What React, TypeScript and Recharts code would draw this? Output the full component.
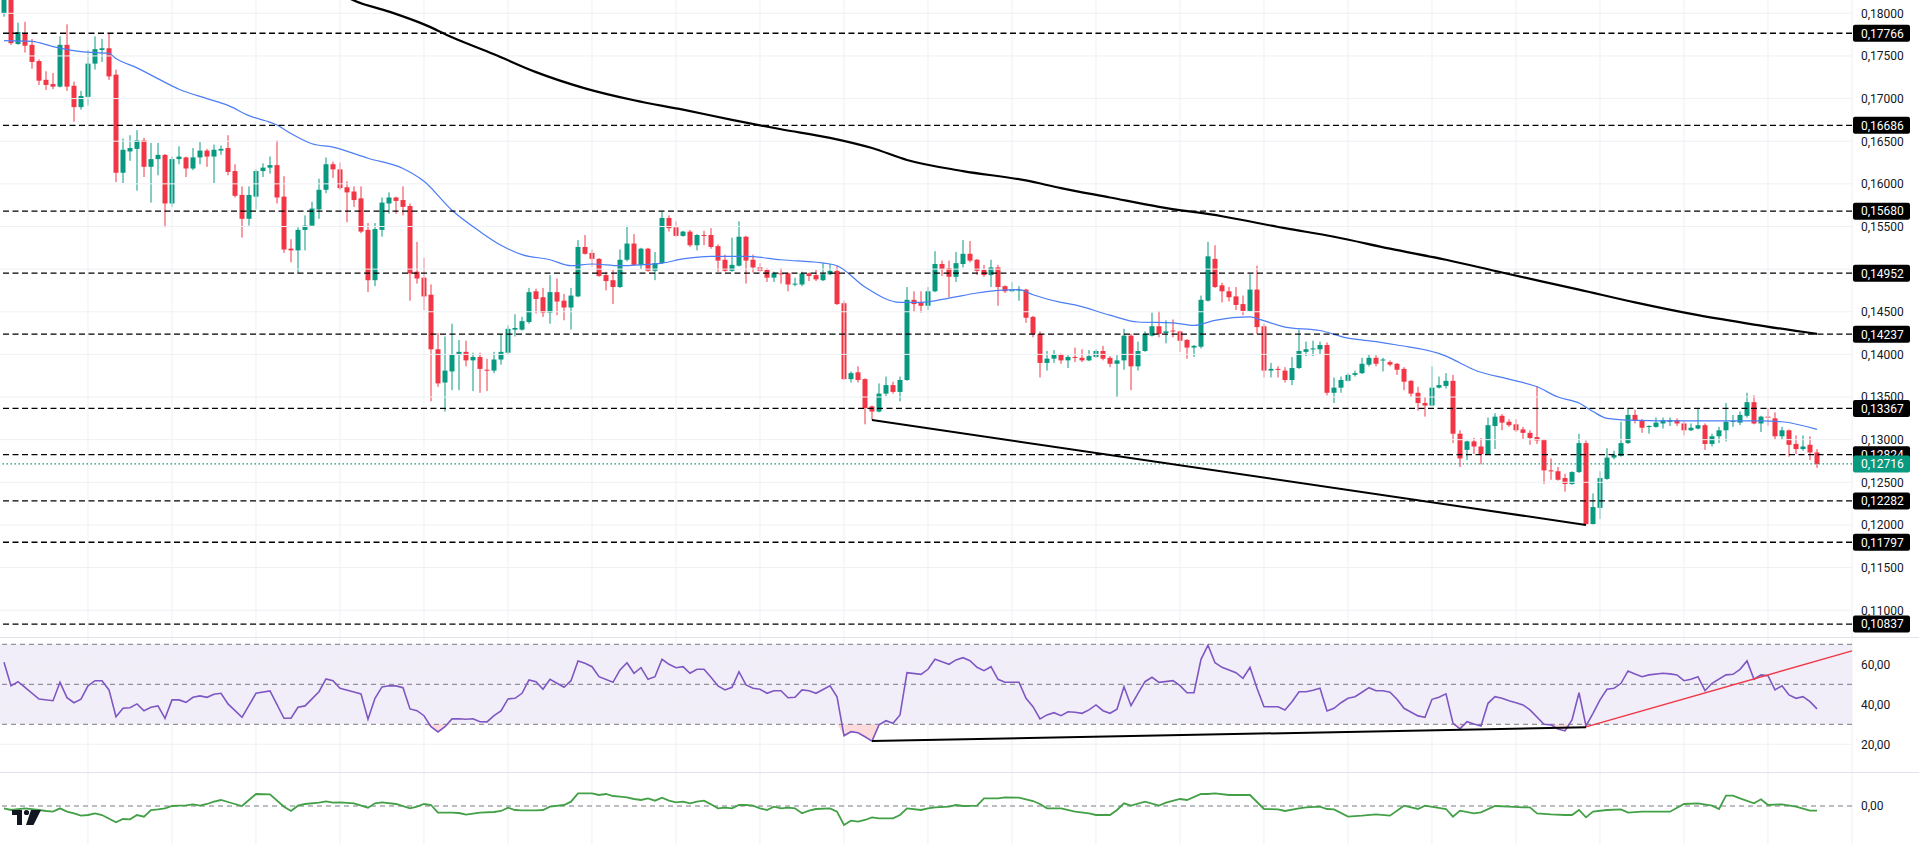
import React from "react";
import { ComposedChart, Bar, Line, Area, XAxis, YAxis, ReferenceLine, ReferenceArea } from "recharts";

const GREEN = "#089981";
const RED = "#f23645";
const FONT = "Roboto, 'Liberation Sans', Arial, sans-serif";

// ---------- price pane data: [open, high, low, close] per candle ----------
const candles: [number, number, number, number][] = [
  [0.18, 0.183, 0.1796, 0.1825], [0.182, 0.1826, 0.1763, 0.1765], [0.1764, 0.1789, 0.1763, 0.1778], [0.1777, 0.179, 0.1754, 0.1762],
  [0.1763, 0.177, 0.1735, 0.1743], [0.1744, 0.1746, 0.1716, 0.1721], [0.1722, 0.1732, 0.171, 0.1716], [0.1717, 0.173, 0.1711, 0.1714],
  [0.1714, 0.1773, 0.1713, 0.1763], [0.1763, 0.1787, 0.1709, 0.1714], [0.1715, 0.172, 0.1673, 0.169], [0.169, 0.1709, 0.1687, 0.1703],
  [0.1702, 0.1757, 0.1692, 0.1741], [0.1741, 0.1773, 0.1734, 0.1758], [0.1757, 0.177, 0.1743, 0.1759], [0.1759, 0.1777, 0.1722, 0.1726],
  [0.1728, 0.1734, 0.1602, 0.1613], [0.1613, 0.1653, 0.1601, 0.164], [0.1638, 0.1657, 0.1627, 0.1642], [0.1641, 0.1663, 0.1592, 0.1651],
  [0.1651, 0.1654, 0.1608, 0.162], [0.162, 0.1648, 0.1578, 0.1629], [0.1629, 0.1648, 0.161, 0.1634], [0.1634, 0.1635, 0.1549, 0.1577],
  [0.1577, 0.1632, 0.1573, 0.1629], [0.1629, 0.1644, 0.1623, 0.1632], [0.1631, 0.1632, 0.1608, 0.1618], [0.1618, 0.1642, 0.1616, 0.1631],
  [0.1631, 0.1649, 0.1623, 0.1639], [0.1639, 0.1641, 0.162, 0.1632], [0.1632, 0.1646, 0.1601, 0.164], [0.1639, 0.1645, 0.1634, 0.1641],
  [0.1642, 0.1657, 0.161, 0.1614], [0.1615, 0.1623, 0.1584, 0.1586], [0.1587, 0.1597, 0.1537, 0.1559], [0.1559, 0.1597, 0.1551, 0.1587],
  [0.1585, 0.1617, 0.157, 0.1615], [0.1615, 0.1624, 0.1608, 0.1619], [0.1619, 0.1632, 0.1612, 0.1622], [0.1622, 0.1651, 0.1577, 0.1584],
  [0.1585, 0.1609, 0.1519, 0.1523], [0.1524, 0.1535, 0.1508, 0.1522], [0.1522, 0.1549, 0.1495, 0.1546], [0.1546, 0.1563, 0.1522, 0.1551],
  [0.1551, 0.1579, 0.1551, 0.1571], [0.157, 0.1606, 0.1559, 0.1593], [0.1593, 0.1631, 0.1589, 0.1623], [0.1623, 0.1626, 0.1607, 0.1617],
  [0.1617, 0.1625, 0.1593, 0.1595], [0.1596, 0.1603, 0.1555, 0.159], [0.1591, 0.1597, 0.1573, 0.1581], [0.1583, 0.1597, 0.1542, 0.1544],
  [0.1546, 0.1554, 0.1473, 0.1487], [0.1487, 0.1554, 0.148, 0.1547], [0.1546, 0.1584, 0.1538, 0.1578], [0.1577, 0.159, 0.1565, 0.1584],
  [0.1584, 0.1585, 0.1565, 0.158], [0.1581, 0.1597, 0.1563, 0.1573], [0.1574, 0.1577, 0.1463, 0.1495], [0.1497, 0.1532, 0.1483, 0.1489],
  [0.149, 0.1513, 0.1452, 0.1468], [0.147, 0.1482, 0.1345, 0.1406], [0.1406, 0.1425, 0.1362, 0.1366], [0.1367, 0.1421, 0.1333, 0.1381],
  [0.138, 0.1436, 0.1358, 0.14], [0.14, 0.1417, 0.1358, 0.1403], [0.1403, 0.1416, 0.1386, 0.1393], [0.1393, 0.1402, 0.1357, 0.1397],
  [0.1397, 0.1402, 0.1355, 0.1383], [0.1382, 0.1395, 0.1357, 0.1381], [0.1381, 0.1403, 0.1378, 0.1394], [0.1394, 0.1424, 0.1388, 0.1403],
  [0.1402, 0.1434, 0.1399, 0.143], [0.1429, 0.1447, 0.1421, 0.1431], [0.1429, 0.1444, 0.1428, 0.1439], [0.1438, 0.1478, 0.1436, 0.1473],
  [0.1474, 0.1477, 0.1448, 0.1465], [0.1467, 0.1478, 0.1444, 0.1449], [0.1449, 0.1493, 0.1436, 0.1473], [0.1473, 0.1489, 0.1446, 0.1462],
  [0.1463, 0.1471, 0.144, 0.1455], [0.1455, 0.1478, 0.1429, 0.1469], [0.1468, 0.1534, 0.1467, 0.1526], [0.1526, 0.154, 0.1517, 0.1518],
  [0.1519, 0.1523, 0.1503, 0.1512], [0.1512, 0.1513, 0.1491, 0.1492], [0.1493, 0.1497, 0.1475, 0.1486], [0.1487, 0.1499, 0.1459, 0.1479],
  [0.1479, 0.1523, 0.1478, 0.1511], [0.1511, 0.1551, 0.1509, 0.153], [0.153, 0.1541, 0.1504, 0.1505], [0.1505, 0.1525, 0.15, 0.1524],
  [0.1524, 0.1525, 0.1497, 0.1498], [0.1498, 0.152, 0.1487, 0.1507], [0.1507, 0.1567, 0.1506, 0.156], [0.156, 0.1563, 0.1544, 0.1548],
  [0.1549, 0.1556, 0.1538, 0.1539], [0.1539, 0.1545, 0.1538, 0.1544], [0.1544, 0.1546, 0.1526, 0.1528], [0.1528, 0.1541, 0.1522, 0.154],
  [0.154, 0.1545, 0.1528, 0.1539], [0.154, 0.1548, 0.1524, 0.1526], [0.1527, 0.1529, 0.1497, 0.151], [0.1511, 0.1517, 0.1497, 0.1498],
  [0.1498, 0.1537, 0.1497, 0.1505], [0.1504, 0.1556, 0.1503, 0.1538], [0.1538, 0.1539, 0.1483, 0.151], [0.1511, 0.1517, 0.1496, 0.1502],
  [0.1502, 0.1507, 0.1497, 0.1498], [0.1499, 0.1501, 0.1485, 0.149], [0.149, 0.1497, 0.1485, 0.1495], [0.1495, 0.1501, 0.1483, 0.1494],
  [0.1495, 0.1496, 0.1474, 0.1482], [0.1482, 0.149, 0.148, 0.1483], [0.1482, 0.1497, 0.148, 0.1495], [0.1495, 0.1496, 0.1486, 0.1492],
  [0.1493, 0.1499, 0.1486, 0.1488], [0.1487, 0.1507, 0.1486, 0.1494], [0.1494, 0.1506, 0.1493, 0.1498], [0.1498, 0.1504, 0.1458, 0.1459],
  [0.146, 0.1463, 0.137, 0.1371], [0.1371, 0.138, 0.1367, 0.1378], [0.1379, 0.1386, 0.1367, 0.137], [0.1371, 0.1372, 0.1318, 0.1337],
  [0.1339, 0.134, 0.1323, 0.1333], [0.1333, 0.1366, 0.1332, 0.1354], [0.1354, 0.1374, 0.1351, 0.1364], [0.1364, 0.1368, 0.1354, 0.1356],
  [0.1356, 0.1374, 0.1345, 0.137], [0.137, 0.1479, 0.1369, 0.1464], [0.1464, 0.1474, 0.145, 0.1459], [0.1461, 0.1474, 0.1449, 0.1457],
  [0.1457, 0.1479, 0.1452, 0.1474], [0.1474, 0.1521, 0.1473, 0.1506], [0.1506, 0.151, 0.1492, 0.15], [0.1501, 0.151, 0.1467, 0.1491],
  [0.1491, 0.152, 0.1485, 0.1507], [0.1506, 0.1534, 0.1502, 0.1518], [0.1518, 0.1533, 0.1508, 0.151], [0.1511, 0.1512, 0.1493, 0.1498],
  [0.1499, 0.1505, 0.1491, 0.1493], [0.1493, 0.1511, 0.1479, 0.1502], [0.1502, 0.1505, 0.1457, 0.1479], [0.148, 0.1481, 0.1472, 0.1474],
  [0.1474, 0.1485, 0.1473, 0.1476], [0.1475, 0.148, 0.1463, 0.1476], [0.1476, 0.1477, 0.1437, 0.1443], [0.1444, 0.1445, 0.142, 0.1424],
  [0.1424, 0.1427, 0.1373, 0.139], [0.139, 0.1404, 0.1381, 0.1395], [0.1395, 0.1405, 0.139, 0.14], [0.14, 0.1401, 0.1389, 0.1393],
  [0.1393, 0.1399, 0.1384, 0.1397], [0.1397, 0.1408, 0.1391, 0.1396], [0.1396, 0.1406, 0.1391, 0.1393], [0.1393, 0.1405, 0.1392, 0.1398],
  [0.1397, 0.1406, 0.1396, 0.1404], [0.1404, 0.141, 0.1393, 0.1395], [0.1396, 0.1398, 0.1385, 0.1389], [0.1389, 0.1399, 0.135, 0.1393],
  [0.1393, 0.143, 0.1382, 0.1422], [0.1422, 0.1424, 0.1358, 0.1386], [0.1386, 0.1415, 0.1381, 0.1404], [0.1404, 0.1427, 0.1403, 0.1424],
  [0.1422, 0.1449, 0.1421, 0.1433], [0.1433, 0.1451, 0.142, 0.1424], [0.1425, 0.144, 0.1413, 0.1427], [0.1428, 0.1441, 0.142, 0.1427],
  [0.1427, 0.1428, 0.1403, 0.1416], [0.1417, 0.1418, 0.1395, 0.1408], [0.1408, 0.1411, 0.1397, 0.141], [0.1409, 0.1469, 0.1407, 0.1464],
  [0.1463, 0.1532, 0.1462, 0.1515], [0.1512, 0.1528, 0.1478, 0.1479], [0.1481, 0.1484, 0.1461, 0.1474], [0.1474, 0.1479, 0.1462, 0.1467],
  [0.1468, 0.1479, 0.1452, 0.1458], [0.1459, 0.1469, 0.1446, 0.1451], [0.1451, 0.1494, 0.145, 0.1476], [0.1476, 0.1504, 0.1424, 0.1432],
  [0.1433, 0.1436, 0.1373, 0.1381], [0.1381, 0.139, 0.1373, 0.1383], [0.1383, 0.1386, 0.1373, 0.1382], [0.1381, 0.1385, 0.1367, 0.137],
  [0.137, 0.1397, 0.1364, 0.1384], [0.1384, 0.1429, 0.1383, 0.1404], [0.1403, 0.1415, 0.1398, 0.1406], [0.1406, 0.1416, 0.1398, 0.1407],
  [0.1406, 0.1415, 0.14, 0.1411], [0.1411, 0.1414, 0.1352, 0.1355], [0.1355, 0.1373, 0.1343, 0.1361], [0.1361, 0.1374, 0.1355, 0.137],
  [0.1369, 0.1378, 0.1368, 0.1376], [0.1376, 0.1381, 0.1374, 0.1378], [0.1378, 0.1396, 0.1377, 0.1389], [0.1388, 0.14, 0.1386, 0.1396],
  [0.1396, 0.1399, 0.1386, 0.1389], [0.1393, 0.1396, 0.138, 0.1394], [0.1391, 0.1393, 0.1386, 0.1388], [0.1389, 0.139, 0.1376, 0.1382],
  [0.1383, 0.1385, 0.1358, 0.1368], [0.1369, 0.137, 0.135, 0.1354], [0.1355, 0.1362, 0.1334, 0.1343], [0.1343, 0.135, 0.1327, 0.134],
  [0.134, 0.1386, 0.1339, 0.1361], [0.1361, 0.1374, 0.136, 0.1364], [0.1363, 0.1378, 0.136, 0.1369], [0.1369, 0.1376, 0.1296, 0.1307],
  [0.1307, 0.1311, 0.1268, 0.1278], [0.1288, 0.1299, 0.1276, 0.1298], [0.1298, 0.1302, 0.1283, 0.1292], [0.1292, 0.1302, 0.1271, 0.1283],
  [0.1283, 0.1326, 0.1282, 0.1317], [0.1316, 0.1331, 0.1289, 0.1327], [0.1328, 0.133, 0.1311, 0.132], [0.1321, 0.1324, 0.1315, 0.1317],
  [0.1318, 0.1324, 0.1309, 0.1311], [0.1312, 0.1315, 0.1301, 0.1308], [0.1308, 0.1311, 0.1294, 0.1302], [0.1303, 0.1363, 0.1295, 0.1299],
  [0.13, 0.1301, 0.1248, 0.1264], [0.1264, 0.1278, 0.1253, 0.1263], [0.1263, 0.1268, 0.1252, 0.1253], [0.1255, 0.126, 0.1239, 0.1248],
  [0.1248, 0.1263, 0.1247, 0.1262], [0.1262, 0.1307, 0.1261, 0.1296], [0.1296, 0.1299, 0.12, 0.1201], [0.1201, 0.1237, 0.12, 0.1221],
  [0.122, 0.1263, 0.1207, 0.1255], [0.1254, 0.129, 0.1253, 0.1279], [0.1279, 0.1287, 0.1277, 0.1282], [0.1281, 0.1321, 0.128, 0.1296],
  [0.1296, 0.1337, 0.1295, 0.1329], [0.1329, 0.1335, 0.1319, 0.1322], [0.1323, 0.1324, 0.1308, 0.1314], [0.1315, 0.1317, 0.1307, 0.1316],
  [0.1315, 0.1326, 0.1314, 0.132], [0.1319, 0.1326, 0.1313, 0.1323], [0.1321, 0.1326, 0.1316, 0.1323], [0.1323, 0.1325, 0.1316, 0.1319],
  [0.1319, 0.1322, 0.1305, 0.1311], [0.1311, 0.1319, 0.131, 0.1314], [0.1313, 0.1336, 0.1312, 0.1317], [0.1317, 0.1319, 0.1288, 0.1295],
  [0.1295, 0.1307, 0.1292, 0.1304], [0.1304, 0.1315, 0.1296, 0.1311], [0.1311, 0.1343, 0.1298, 0.1321], [0.1321, 0.1329, 0.1315, 0.1322],
  [0.132, 0.1333, 0.1317, 0.1329], [0.1328, 0.1355, 0.1326, 0.1344], [0.1344, 0.1352, 0.1318, 0.1319], [0.1319, 0.1328, 0.1309, 0.1327],
  [0.1327, 0.1337, 0.1316, 0.1326], [0.1325, 0.1332, 0.13, 0.1304], [0.1304, 0.1315, 0.13, 0.1311], [0.1311, 0.1312, 0.128, 0.1294],
  [0.1295, 0.1305, 0.1283, 0.1289], [0.1289, 0.1305, 0.1287, 0.1292], [0.1294, 0.1304, 0.1276, 0.1285], [0.1285, 0.1289, 0.1267, 0.12716],
];

// moving averages: [candle index, value]
const ma50Points: [number, number][] = [
  [0, 0.1768], [4, 0.1767], [7, 0.1761], [11, 0.1755], [15, 0.1753], [16, 0.1747], [19, 0.1736], [23, 0.1719], [25, 0.1711],
  [29, 0.17], [32, 0.1692], [35, 0.168], [39, 0.1669], [41, 0.1659], [44, 0.1647], [47, 0.1643], [52, 0.163], [57, 0.1618],
  [60, 0.1603], [64, 0.1569], [68, 0.1544], [71, 0.1528], [74, 0.1517], [78, 0.1511], [81, 0.1504], [84, 0.1506], [88, 0.1504],
  [91, 0.1505], [94, 0.1507], [97, 0.1512], [101, 0.1515], [106, 0.1515], [111, 0.1511], [118, 0.1506], [119, 0.1504],
  [123, 0.1479], [128, 0.1461], [131, 0.1461], [135, 0.1466], [139, 0.1472], [142, 0.1475], [145, 0.1476], [147, 0.147],
  [151, 0.1461], [153, 0.1458], [158, 0.1446], [162, 0.1438], [167, 0.1437], [170, 0.1434], [173, 0.144], [178, 0.1444],
  [179, 0.1442], [183, 0.1432], [188, 0.1428], [192, 0.1419], [196, 0.1415], [199, 0.1411], [206, 0.1398], [208, 0.139],
  [210, 0.1382], [215, 0.1371], [219, 0.1362], [222, 0.135], [225, 0.1343], [227, 0.1333], [229, 0.1325], [232, 0.1323],
  [241, 0.1322], [251, 0.1322], [254, 0.1321], [259, 0.1312],
];
const ma200Points: [number, number][] = [
  [47, 0.1828], [50, 0.1815], [55, 0.1802], [60, 0.1787], [64, 0.1772], [70, 0.1752], [76, 0.1731], [83, 0.1712], [90, 0.1698],
  [97, 0.1687], [104, 0.1675], [111, 0.1664], [118, 0.1654], [124, 0.1642], [129, 0.1628], [137, 0.1615], [146, 0.1604],
  [151, 0.1595], [158, 0.1584], [165, 0.1573], [174, 0.1562], [183, 0.1548], [190, 0.1538], [198, 0.1524], [206, 0.1511],
  [214, 0.1496], [225, 0.1476], [233, 0.1461], [242, 0.1446], [250, 0.1435], [259, 0.1424],
];

const levels = [0.17766, 0.16686, 0.1568, 0.14952, 0.14237, 0.13367, 0.12824, 0.12282, 0.11797, 0.10837];
const lastPrice = 0.12716;
const priceTicks = [0.18, 0.175, 0.17, 0.165, 0.16, 0.155, 0.145, 0.14, 0.135, 0.13, 0.125, 0.12, 0.115, 0.11];
const priceGrid = [0.18, 0.175, 0.17, 0.165, 0.16, 0.155, 0.15, 0.145, 0.14, 0.135, 0.13, 0.125, 0.12, 0.115, 0.11];
const priceTrend: [number, number][] = [[124, 0.1323], [226, 0.12]];
const PRICE_DOMAIN: [number, number] = [0.10686, 0.18156];

// ---------- RSI pane ----------
const rsiPoints: [number, number][] = [
  [0, 61], [1, 49.2], [2, 51.3], [3, 48.5], [5, 42.6], [7, 41.8], [8, 51], [9, 43.3], [10, 40.8], [11, 42.6], [12, 49.2], [13, 51.8],
  [14, 51.8], [15, 47.2], [16, 33.8], [17, 38], [18, 38.3], [19, 40.2], [20, 36.8], [21, 38.5], [22, 39.2], [23, 33], [24, 42.2],
  [25, 42.2], [26, 41], [27, 43.5], [28, 44.2], [29, 43.5], [30, 45], [31, 45.5], [32, 40.2], [34, 33.5], [36, 45.5], [38, 46.7],
  [40, 33], [41, 33], [42, 38.5], [43, 39.2], [45, 46.3], [46, 52.7], [47, 51.8], [48, 48], [50, 46.2], [51, 45.2], [52, 32.5],
  [53, 43], [54, 48.7], [55, 49.3], [56, 49.2], [57, 48.3], [58, 37.7], [59, 36.8], [60, 34.3], [61, 28.8], [62, 26.2], [63, 28.8],
  [64, 32.7], [65, 32.8], [66, 32.5], [67, 32.8], [68, 31.3], [69, 31.2], [70, 34.3], [71, 36.7], [72, 42.7], [73, 43], [74, 45.5],
  [75, 52.2], [76, 51.3], [77, 47.5], [78, 52.5], [79, 50.5], [80, 48.5], [81, 51.8], [82, 61.7], [83, 60.5], [84, 58.8], [85, 53.8],
  [87, 51], [88, 57.2], [89, 60.8], [90, 55.5], [91, 58.3], [92, 52.5], [93, 53.8], [94, 62.5], [95, 60], [96, 58.3], [97, 58.8],
  [98, 55.5], [99, 57.5], [100, 57.5], [101, 53.5], [102, 49.2], [103, 47.2], [104, 48.5], [105, 56.3], [106, 49.7], [107, 48],
  [108, 47.5], [109, 45.5], [110, 46.8], [111, 46.8], [112, 43.3], [113, 43.5], [114, 47.2], [115, 46.8], [116, 45.5], [118, 49.3],
  [119, 43.8], [120, 24.3], [121, 26.3], [122, 25.8], [123, 23.8], [124, 21.6], [125, 29.7], [126, 31.8], [127, 30.5], [128, 34.7],
  [129, 55.8], [131, 55], [132, 57.5], [133, 62.5], [134, 61.3], [135, 60], [136, 62.2], [137, 63.3], [138, 61.8], [139, 58.5],
  [140, 56.8], [141, 58.8], [142, 52.5], [143, 51], [145, 51], [146, 43], [147, 38.8], [148, 32.7], [149, 34.7], [150, 35.8],
  [151, 34.3], [152, 36.3], [153, 36], [154, 35.5], [155, 37.2], [156, 39.7], [157, 36.8], [158, 35.5], [159, 37.5], [160, 48.8],
  [161, 39.3], [162, 45.5], [163, 51.3], [164, 53.5], [165, 51], [167, 51.8], [168, 49.3], [169, 45.8], [170, 45.8], [171, 62.5],
  [172, 69.6], [173, 60.8], [174, 58.5], [176, 55.8], [177, 53], [178, 58.5], [179, 48], [180, 38.8], [182, 38.8], [183, 37.2],
  [184, 41.3], [185, 46.3], [186, 46.3], [187, 47], [188, 48], [189, 36.7], [190, 38], [191, 40.8], [192, 43], [193, 43.8],
  [194, 46], [195, 48.3], [196, 46.8], [197, 46.8], [198, 46], [199, 42.5], [200, 38], [202, 34.2], [203, 33.5], [204, 42.5],
  [205, 43.5], [206, 45.2], [207, 30.5], [208, 27.7], [209, 31.3], [210, 30.2], [211, 29.2], [212, 40.5], [213, 43.8], [214, 43],
  [215, 41.8], [216, 40.8], [217, 39.7], [218, 37.2], [220, 30], [221, 29.7], [222, 27.7], [223, 26.7], [224, 32.2], [225, 45.8],
  [226, 29.2], [227, 35.5], [228, 42.2], [229, 47.5], [230, 48], [231, 50.5], [232, 56.7], [233, 55.2], [234, 53.8], [235, 54.7],
  [237, 55.5], [238, 55.2], [239, 54.7], [240, 51.8], [241, 52.5], [242, 53.8], [243, 46.8], [244, 50.5], [246, 54.7], [247, 55],
  [248, 57.5], [249, 61.7], [250, 52.5], [251, 54.7], [252, 54.3], [253, 47.2], [254, 49.3], [255, 44.7], [256, 43], [257, 43.8],
  [258, 41.3], [259, 37.7],
];
const rsiTicks = [20, 40, 60];
const rsiBands = [70, 50, 30];
const rsiOversold = 30;
const rsiTrendBlack: [number, number][] = [[124, 21.6], [226, 28.5]];
const rsiTrendRed: [number, number][] = [[226, 28.7], [264, 66.7]];
const RSI_DOMAIN: [number, number] = [6.15, 73.15];

// ---------- oscillator pane ----------
const momPoints: [number, number][] = [
  [0, -7], [1, -12], [3, -7], [5, -12], [6, -15], [7, -17], [8, -7], [9, -17], [10, -22], [11, -29], [12, -27], [13, -22], [14, -27],
  [16, -49], [17, -39], [18, -40], [19, -27], [20, -32], [21, -12], [22, -10], [23, -7], [24, 0], [25, 1], [26, 2], [27, 5], [28, 1],
  [29, 6], [30, 13], [31, 18], [32, 12], [34, 0], [36, 36], [38, 35], [40, -2], [41, -15], [42, 1], [43, 6], [45, 10], [46, 14],
  [47, 10], [48, 11], [50, 8], [52, -5], [53, 8], [54, 11], [56, 6], [58, -7], [59, -2], [60, 6], [61, 3], [62, -20], [64, -20],
  [65, -21], [66, -26], [68, -20], [70, -18], [71, -15], [72, -5], [73, -12], [74, -13], [76, -13], [77, -12], [78, -2], [80, 3],
  [81, 13], [82, 38], [84, 38], [85, 33], [86, 36], [87, 30], [88, 28], [89, 26], [90, 21], [91, 18], [92, 23], [93, 16], [94, 25],
  [95, 16], [96, 11], [97, 13], [98, 8], [99, 13], [100, 16], [101, 5], [102, -7], [103, -5], [104, -7], [105, 3], [106, 3], [107, 1],
  [108, -7], [109, -12], [110, -2], [111, -7], [112, -5], [113, -7], [114, -22], [115, -14], [116, -9], [118, -7], [119, -17],
  [120, -57], [121, -44], [122, -47], [123, -42], [124, -34], [125, -37], [127, -37], [128, -27], [129, -7], [131, -12], [132, -7],
  [133, -4], [135, -2], [136, 3], [137, 0], [139, 1], [140, 23], [142, 23], [143, 26], [145, 25], [147, 15], [148, 6], [149, -7],
  [151, -7], [153, -17], [155, -22], [156, -27], [158, -27], [159, -12], [160, 8], [161, 1], [163, 13], [165, 1], [166, 10],
  [168, 21], [169, 18], [171, 36], [172, 36], [173, 38], [175, 33], [177, 33], [178, 33], [180, -9], [182, -10], [183, -15],
  [185, -7], [186, -4], [188, -2], [189, -9], [190, -10], [192, -32], [194, -29], [196, -25], [198, -29], [200, 1], [202, -9],
  [203, 1], [206, -9], [207, -32], [208, -14], [210, -22], [211, -19], [213, 0], [215, -2], [217, -4], [218, -4], [219, -22],
  [221, -25], [223, -27], [224, -27], [225, -12], [226, -34], [227, -17], [229, -12], [231, -10], [232, -20], [234, -17],
  [238, -17], [240, 6], [242, 8], [244, 1], [245, -9], [246, 31], [247, 31], [248, 23], [250, 8], [251, 20], [252, 3], [254, 5],
  [256, -2], [258, -14], [259, -14],
];
const MOM_DOMAIN: [number, number] = [-117, 99];
const momTicks = [0];

// vertical grid every 12 candles
const vGrid = [12, 24, 36, 48, 60, 72, 84, 96, 108, 120, 132, 144, 156, 168, 180, 192, 204, 216, 228, 240, 252, 264];
const X_DOMAIN: [number, number] = [-0.571, 264];

// ---------- derived rows ----------
const priceRows = candles.map(([o, h, l, c], i) => ({ i, o, h, l, c }));
const ma50Rows = ma50Points.map(([i, v]) => ({ i, v }));
const ma200Rows = ma200Points.map(([i, v]) => ({ i, v }));
const rsiRows = rsiPoints.map(([i, v]) => ({ i, v, os: [Math.min(v, rsiOversold), rsiOversold] }));
const momRows = momPoints.map(([i, v]) => ({ i, v }));
const seg = (p: [number, number][]) => p.map(([x, y]) => ({ x, y }));

const fmtPrice = (v: number) => v.toFixed(5).replace(".", ",");
const fmt2 = (v: number) => v.toFixed(2).replace(".", ",");

const Candle = (props: any) => {
  const { x, width, payload } = props;
  let { y, height } = props;
  if (!payload) return null;
  if (height < 0) { y = y + height; height = -height; }
  const { o, h, l, c } = payload;
  const color = c >= o ? GREEN : RED;
  const span = h - l;
  const k = span > 0 ? height / span : 0;
  const yO = y + (h - o) * k;
  const yC = y + (h - c) * k;
  const top = Math.min(yO, yC);
  const bh = Math.max(1, Math.abs(yC - yO));
  const cx = Math.round(x + width / 2);
  return (
    <g>
      <line x1={cx} x2={cx} y1={y} y2={y + height} stroke={color} strokeWidth={1} />
      <rect x={cx - 2.5} y={top} width={5} height={bh} fill={color} />
    </g>
  );
};

const PriceTick = (p: any) => {
  const v = p.payload?.value;
  const isLast = v === lastPrice;
  const isLevel = levels.includes(v);
  if (isLast || isLevel) {
    return (
      <g>
        <rect x={p.x - 8} y={p.y - 8.5} width={57} height={17} rx={2} fill={isLast ? GREEN : "#000"} />
        <text x={p.x} y={p.y} dy="0.36em" fill="#fff" fontSize={12} fontFamily={FONT}>{fmtPrice(v)}</text>
      </g>
    );
  }
  return <text x={p.x} y={p.y} dy="0.36em" fill="#131722" fontSize={12} fontFamily={FONT}>{fmtPrice(v)}</text>;
};

const SmallTick = (p: any) => (
  <text x={p.x} y={p.y} dy="0.36em" fill="#131722" fontSize={12} fontFamily={FONT}>{fmt2(p.payload?.value)}</text>
);

const GRID = "#eef0f4";
const M = { top: 0, right: 0, bottom: 0, left: 0 };

const Logo = () => (
  <svg width={34} height={22} style={{ position: "absolute", left: 10, top: 806 }}>
    <rect x={2} y={4} width={10} height={5} fill="#131722" />
    <rect x={7} y={4} width={5} height={15} fill="#131722" />
    <circle cx={16.5} cy={6.5} r={2.6} fill="#131722" />
    <polygon points="21,4 31,4 23.5,19 16,19" fill="#131722" />
  </svg>
);

export default function App() {
  return (
    <div style={{ position: "absolute", left: 0, top: 0, width: 1919, height: 845, background: "#fff", overflow: "hidden", fontFamily: FONT }}>
      <div style={{ position: "absolute", left: 0, top: 0 }}>
        <ComposedChart width={1919} height={637} data={priceRows} margin={M}>
          <XAxis dataKey="i" type="number" domain={X_DOMAIN} allowDataOverflow hide />
          <YAxis
            orientation="right" width={67} domain={PRICE_DOMAIN} allowDataOverflow type="number"
            ticks={[...priceTicks, ...levels, lastPrice]} interval={0} tick={<PriceTick />}
            tickLine={false} axisLine={false} tickSize={9} tickMargin={0}
          />
          {priceGrid.map((v) => <ReferenceLine key={"pg" + v} y={v} stroke={GRID} strokeWidth={1} />)}
          {vGrid.map((v) => <ReferenceLine key={"pv" + v} x={v} stroke={GRID} strokeWidth={1} />)}
          <Bar dataKey={(d: any) => [d.l, d.h]} shape={<Candle />} barSize={5} isAnimationActive={false} />
          <Line data={ma50Rows} dataKey="v" type="monotone" stroke="#4c7df5" strokeWidth={1.2} dot={false} activeDot={false} isAnimationActive={false} />
          <Line data={ma200Rows} dataKey="v" type="monotone" stroke="#000" strokeWidth={2.2} dot={false} activeDot={false} isAnimationActive={false} />
          {levels.map((v) => <ReferenceLine key={"lv" + v} y={v} stroke="#000" strokeWidth={1.3} strokeDasharray="6 3.5" />)}
          <ReferenceLine y={lastPrice} stroke={GREEN} strokeWidth={1.2} strokeDasharray="1.5 2.5" />
          <ReferenceLine segment={seg(priceTrend)} stroke="#000" strokeWidth={2} ifOverflow="visible" />
        </ComposedChart>
      </div>

      <div style={{ position: "absolute", left: 0, top: 638 }}>
        <ComposedChart width={1919} height={134} data={rsiRows} margin={M}>
          <XAxis dataKey="i" type="number" domain={X_DOMAIN} allowDataOverflow hide />
          <YAxis
            orientation="right" width={67} domain={RSI_DOMAIN} allowDataOverflow type="number"
            ticks={rsiTicks} interval={0} tick={<SmallTick />} tickLine={false} axisLine={false} tickSize={9} tickMargin={0}
          />
          <ReferenceArea y1={30} y2={70} fill="#7e57c2" fillOpacity={0.1} stroke="none" />
          {rsiTicks.map((v) => <ReferenceLine key={"rg" + v} y={v} stroke={GRID} strokeWidth={1} />)}
          {vGrid.map((v) => <ReferenceLine key={"rv" + v} x={v} stroke={GRID} strokeWidth={1} />)}
          <Area dataKey="os" type="linear" stroke="none" fill={RED} fillOpacity={0.18} isAnimationActive={false} activeDot={false} />
          {rsiBands.map((v) => <ReferenceLine key={"rb" + v} y={v} stroke="#787b86" strokeWidth={1} strokeDasharray="5 4" />)}
          <Line dataKey="v" type="linear" stroke="#7e57c2" strokeWidth={1.6} dot={false} activeDot={false} isAnimationActive={false} />
          <ReferenceLine segment={seg(rsiTrendBlack)} stroke="#000" strokeWidth={2} ifOverflow="visible" />
          <ReferenceLine segment={seg(rsiTrendRed)} stroke={RED} strokeWidth={1.5} ifOverflow="visible" />
        </ComposedChart>
      </div>

      <div style={{ position: "absolute", left: 0, top: 773 }}>
        <ComposedChart width={1919} height={72} data={momRows} margin={M}>
          <XAxis dataKey="i" type="number" domain={X_DOMAIN} allowDataOverflow hide />
          <YAxis
            orientation="right" width={67} domain={MOM_DOMAIN} allowDataOverflow type="number"
            ticks={momTicks} interval={0} tick={<SmallTick />} tickLine={false} axisLine={false} tickSize={9} tickMargin={0}
          />
          {vGrid.map((v) => <ReferenceLine key={"mv" + v} x={v} stroke={GRID} strokeWidth={1} />)}
          <ReferenceLine y={0} stroke="#787b86" strokeWidth={1} strokeDasharray="5 4" />
          <Line dataKey="v" type="linear" stroke="#43a047" strokeWidth={1.8} dot={false} activeDot={false} isAnimationActive={false} />
        </ComposedChart>
      </div>

      <div style={{ position: "absolute", left: 0, top: 637, width: 1919, height: 1, background: "#e0e3eb" }} />
      <div style={{ position: "absolute", left: 0, top: 772, width: 1919, height: 1, background: "#e0e3eb" }} />
      <Logo />
    </div>
  );
}
